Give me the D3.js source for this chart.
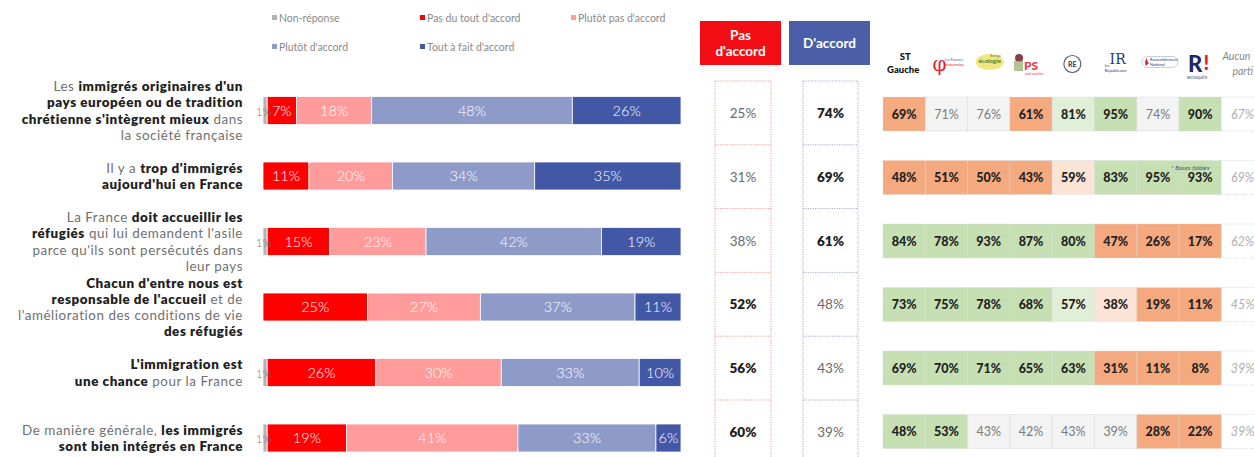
<!DOCTYPE html>
<html lang="fr">
<head>
<meta charset="UTF-8">
<title>Immigration - accord par affirmation</title>
<script src="https://d3js.org/d3.v7.min.js"></script>
<style>
    body { margin: 0; background: #fff; font-family: Lato, 'Open Sans', sans-serif; }
    svg { display: block; }
</style>
</head>
<body>
<svg width="1255" height="457"></svg>
<script>
// ---- data ----
const categories = ["Non-réponse", "Pas du tout d'accord", "Plutôt pas d'accord", "Plutôt d'accord", "Tout à fait d'accord"];
const nonReponse = [1, 0, 1, 0, 1, 1];
const pasDuTout = [7, 11, 15, 25, 26, 19];
const plutotPas = [18, 20, 23, 27, 30, 41];
const plutot = [48, 34, 42, 37, 33, 33];
const toutAFait = [26, 35, 19, 11, 10, 6];
const pasDAccord = [25, 31, 38, 52, 56, 60];
const dAccord = [74, 69, 61, 48, 43, 39];

// question labels, each line = list of [text, bold]
const questions = [
    [[["Les", 0], ["immigrés originaires d'un", 1]], [["pays européen ou de tradition", 1]], [["chrétienne s'intègrent mieux", 1], ["dans", 0]], [["la société française", 0]]],
    [[["Il y a", 0], ["trop d'immigrés", 1]], [["aujourd'hui en France", 1]]],
    [[["La France", 0], ["doit accueillir les", 1]], [["réfugiés", 1], ["qui lui demandent l'asile", 0]], [["parce qu'ils sont persécutés dans", 0]], [["leur pays", 0]]],
    [[["Chacun d'entre nous est", 1]], [["responsable de l'accueil", 1], ["et de", 0]], [["l'amélioration des conditions de vie", 0]], [["des réfugiés", 1]]],
    [[["L'immigration est", 1]], [["une chance", 1], ["pour la France", 0]]],
    [[["De manière générale,", 0], ["les immigrés", 1]], [["sont bien intégrés en France", 1]]]
];

const parties = ["ST Gauche", "LFI", "Écologie", "PS", "RE", "LR", "RN", "Reconquête", "Aucun parti"];
const partyValues = [
    [69, 71, 76, 61, 81, 95, 74, 90, 67],
    [48, 51, 50, 43, 59, 83, 95, 93, 69],
    [84, 78, 93, 87, 80, 47, 26, 17, 62],
    [73, 75, 78, 68, 57, 38, 19, 11, 45],
    [69, 70, 71, 65, 63, 31, 11, 8, 39],
    [48, 53, 43, 42, 43, 39, 28, 22, 39]
];
// significance vs ensemble: "--" well below, "-" below, "=" same, "+" above, "++" well above, "ref" = aucun parti
const partyTiers = [
    ["--", "=", "=", "--", "+", "++", "=", "++", "ref"],
    ["--", "--", "--", "--", "-", "++", "++", "++", "ref"],
    ["++", "++", "++", "++", "++", "--", "--", "--", "ref"],
    ["++", "++", "++", "++", "+", "-", "--", "--", "ref"],
    ["++", "++", "++", "++", "++", "--", "--", "--", "ref"],
    ["++", "++", "=", "=", "=", "=", "--", "--", "ref"]
];

// ---- setup ----
const svg = d3.select("svg");
const rows = d3.range(questions.length);
const series = [nonReponse, pasDuTout, plutotPas, plutot, toutAFait];

const color = d3.scaleOrdinal()
    .domain(categories)
    .range(["#b3b3b3", "#ff0000", "#ff9b9b", "#8e9bc9", "#4357a7"]);

const x = d3.scaleLinear().domain([0, 100]).range([263, 681]);
const y = d3.scalePoint().domain(rows).range([110.5, 438]);
const barH = 28;

// ---- legend ----
const legend = svg.append("g");
const legendPos = [[272, 18], [420, 18], [571, 18], [272, 47], [420, 47]];
categories.forEach((c, i) => {
    const g = legend.append("g").attr("transform", `translate(${legendPos[i][0]},${legendPos[i][1]})`);
    g.append("rect").attr("x", 0).attr("y", -3).attr("width", 5).attr("height", 5).attr("fill", color(c));
    g.append("text").attr("x", 7).attr("y", 3.5).attr("font-size", 10.5).attr("fill", "#8a8a8a").text(c);
});

// ---- question labels: parts placed right to left ----
const lineH = 16.3;
const spaceW = 4;
questions.forEach((lines, r) => {
    const y0 = y(r) - (lines.length - 1) * lineH / 2 + 5;
    lines.forEach((parts, li) => {
        let right = 243;
        parts.slice().reverse().forEach(p => {
            const t = svg.append("text")
                .attr("x", right).attr("y", y0 + li * lineH)
                .attr("text-anchor", "end")
                .attr("font-size", 13.4)
                .attr("letter-spacing", 0.55)
                .attr("font-weight", p[1] ? 800 : 400)
                .attr("fill", p[1] ? "#222" : "#707070")
                .text(p[0]);
            right -= t.node().getComputedTextLength() + spaceW;
        });
    });
});

// ---- stacked bars ----
rows.forEach(r => {
    let acc = 0;
    series.forEach((s, k) => {
        const v = s[r];
        const x0 = acc;
        acc += v;
        if (v === 0) return;
        svg.append("rect")
            .attr("x", x(x0)).attr("y", y(r) - barH / 2)
            .attr("width", x(acc) - x(x0)).attr("height", barH)
            .attr("fill", color(categories[k]))
            .attr("stroke", "#fff").attr("stroke-width", 0.8);
    });
    acc = 0;
    series.forEach((s, k) => {
        const v = s[r];
        const x0 = acc;
        acc += v;
        if (v === 0) return;
        svg.append("text")
            .attr("x", (x(x0) + x(acc)) / 2 + (k === 0 ? -1.5 : 0))
            .attr("y", y(r) + 5)
            .attr("text-anchor", "middle")
            .attr("font-size", k === 0 ? 11.5 : 14.5)
            .attr("font-weight", 300)
            .attr("fill", k === 0 ? "#7a7a7a" : "#fff")
            .text(v + "%");
    });
});

// ---- accord / pas d'accord columns ----
const ym = d3.scalePoint().domain(rows).range([113, 432]);
const cellH = 64;
const sumCols = [
    { key: "Pas\nd'accord", values: pasDAccord, x0: 715, x1: 771, head: [700, 781], fill: "#f20d15", line: "#e58a8a" },
    { key: "D'accord", values: dAccord, x0: 803, x1: 858, head: [789, 870], fill: "#4b5fa9", line: "#8f97c4" }
];
sumCols.forEach(col => {
    svg.append("rect").attr("x", col.head[0]).attr("y", 21)
        .attr("width", col.head[1] - col.head[0]).attr("height", 44).attr("fill", col.fill);
    const lines = col.key.split("\n");
    lines.forEach((l, i) => {
        svg.append("text")
            .attr("x", (col.head[0] + col.head[1]) / 2)
            .attr("y", 43 + 5 + (i - (lines.length - 1) / 2) * 16)
            .attr("text-anchor", "middle").attr("font-size", 13.5).attr("font-weight", 700)
            .attr("fill", "#fff").text(l);
    });
    const g = svg.append("g");
    g.append("line").attr("x1", col.x0).attr("x2", col.x0).attr("y1", ym(0) - cellH / 2).attr("y2", 460);
    g.append("line").attr("x1", col.x1).attr("x2", col.x1).attr("y1", ym(0) - cellH / 2).attr("y2", 460);
    rows.forEach(r => {
        g.append("line").attr("x1", col.x0).attr("x2", col.x1)
            .attr("y1", ym(r) - cellH / 2).attr("y2", ym(r) - cellH / 2);
    });
    g.selectAll("line").attr("stroke", col.line).attr("stroke-width", 0.8).attr("stroke-dasharray", "1.2,1.2");
    col.values.forEach((v, r) => {
        svg.append("text")
            .attr("x", (col.x0 + col.x1) / 2).attr("y", ym(r) + 5)
            .attr("text-anchor", "middle").attr("font-size", 13.5)
            .attr("font-weight", v > 50 ? 800 : 400)
            .attr("fill", v > 50 ? "#1e1e1e" : "#6a6a6a")
            .text(v + "%");
    });
});

// ---- party table ----
const xp = d3.scaleBand().domain(parties).range([883, 883 + 42.3 * parties.length]);
const yp = d3.scalePoint().domain(rows).range([114, 431.5]);
const tierFill = d3.scaleOrdinal()
    .domain(["--", "-", "=", "+", "++", "ref"])
    .range(["#f5a97f", "#fbe3d5", "#f3f3f3", "#e1efd8", "#c6e0b4", "#ffffff"]);
const cellPH = 34;

rows.forEach(r => {
    parties.forEach((p, c) => {
        const tier = partyTiers[r][c];
        svg.append("rect")
            .attr("x", xp(p)).attr("y", yp(r) - cellPH / 2)
            .attr("width", xp.bandwidth()).attr("height", cellPH)
            .attr("fill", tierFill(tier))
            .attr("stroke", tier === "ref" || tier === "=" ? "#cfcfcf" : "#d9d9d9")
            .attr("stroke-width", 0.7)
            .attr("stroke-dasharray", "1,1");
        const strong = tier !== "=" && tier !== "ref";
        svg.append("text")
            .attr("x", xp(p) + xp.bandwidth() / 2).attr("y", yp(r) + 4.5)
            .attr("text-anchor", "middle").attr("font-size", 12.5)
            .attr("font-weight", strong ? 900 : 400)
            .attr("font-style", tier === "ref" ? "italic" : "normal")
            .attr("fill", strong ? "#222" : (tier === "ref" ? "#b0b0b0" : "#7a7a7a"))
            .text(partyValues[r][c] + "%");
    });
});
svg.append("text").attr("x", xp("Reconquête") - 8).attr("y", yp(1) - 8)
    .attr("font-size", 6.5).attr("font-style", "italic").attr("fill", "#556")
    .text("* Bases faibles");

// ---- party header (simplified logos) ----
const hx = p => xp(p) + xp.bandwidth() / 2;
const hdr = svg.append("g");
hdr.append("text").attr("x", hx("ST Gauche") + 1).attr("y", 60).attr("text-anchor", "middle")
    .attr("font-size", 9.5).attr("font-weight", 900).attr("fill", "#111").text("ST");
hdr.append("text").attr("x", hx("ST Gauche") - 1).attr("y", 73).attr("text-anchor", "middle")
    .attr("font-size", 9.5).attr("font-weight", 900).attr("fill", "#111").text("Gauche");
// LFI
hdr.append("text").attr("x", hx("LFI") - 14).attr("y", 71).attr("font-size", 20)
    .attr("fill", "#e0252b").attr("font-family", "DejaVu Serif").text("φ");
hdr.append("text").attr("x", hx("LFI") - 2).attr("y", 61).attr("font-size", 4.5).attr("fill", "#2f6fb5").text("La France");
hdr.append("text").attr("x", hx("LFI") - 2).attr("y", 66).attr("font-size", 4.5).attr("fill", "#e0252b").text("insoumise");
// Ecologie
hdr.append("ellipse").attr("cx", hx("Écologie") + 1).attr("cy", 62).attr("rx", 14).attr("ry", 8)
    .attr("fill", "#ece46a").attr("opacity", 0.85);
hdr.append("text").attr("x", hx("Écologie") + 1).attr("y", 63).attr("text-anchor", "middle")
    .attr("font-size", 6).attr("font-weight", 700).attr("fill", "#3e7c3a").text("écologie");
hdr.append("text").attr("x", hx("Écologie") + 7).attr("y", 57).attr("text-anchor", "middle")
    .attr("font-size", 3.5).attr("fill", "#3e7c3a").text("Europe");
// PS
hdr.append("circle").attr("cx", hx("PS") - 12).attr("cy", 58).attr("r", 4).attr("fill", "#8c3b46");
hdr.append("rect").attr("x", hx("PS") - 17).attr("y", 61).attr("width", 9).attr("height", 10).attr("fill", "#9fb47a").attr("opacity", 0.8);
hdr.append("text").attr("x", hx("PS") - 7).attr("y", 70).attr("font-size", 12).attr("font-weight", 900)
    .attr("fill", "#e63a4d").text("PS");
hdr.append("text").attr("x", hx("PS") - 6).attr("y", 74.5).attr("font-size", 3).attr("fill", "#e63a4d").text("parti socialiste");
// RE
hdr.append("circle").attr("cx", hx("RE") - 1).attr("cy", 64).attr("r", 8.5)
    .attr("fill", "#fff").attr("stroke", "#5a6070").attr("stroke-width", 1.2);
hdr.append("text").attr("x", hx("RE") - 1).attr("y", 66.5).attr("text-anchor", "middle")
    .attr("font-size", 7).attr("font-weight", 700).attr("fill", "#2c3350").text("RE");
// LR
hdr.append("text").attr("x", hx("LR") + 2).attr("y", 64).attr("text-anchor", "middle")
    .attr("font-size", 14).attr("fill", "#233a80").attr("font-family", "DejaVu Serif").text("IR");
hdr.append("text").attr("x", hx("LR") - 11).attr("y", 67).attr("font-size", 4).attr("fill", "#233a80").text("les");
hdr.append("text").attr("x", hx("LR") - 11).attr("y", 71.5).attr("font-size", 4).attr("fill", "#233a80").text("Républicains");
// RN
hdr.append("rect").attr("x", hx("RN") - 16).attr("y", 56.5).attr("width", 36).attr("height", 11).attr("rx", 5.5)
    .attr("fill", "none").attr("stroke", "#b8bfd8").attr("stroke-width", 0.8);
hdr.append("path").attr("d", `M${hx("RN") - 12},66 q-2,-5 1,-8 q0,4 2,5 z`).attr("fill", "#d3283a");
hdr.append("text").attr("x", hx("RN") - 8).attr("y", 61).attr("font-size", 4).attr("fill", "#233a80").text("Rassemblement");
hdr.append("text").attr("x", hx("RN") - 8).attr("y", 65.5).attr("font-size", 4).attr("fill", "#233a80").text("National");
// Reconquête
hdr.append("text").attr("x", hx("Reconquête") - 5).attr("y", 72).attr("text-anchor", "middle")
    .attr("font-size", 22).attr("font-weight", 900).attr("fill", "#1b2a6b").text("R");
hdr.append("text").attr("x", hx("Reconquête") + 6).attr("y", 70).attr("text-anchor", "middle")
    .attr("font-size", 20).attr("font-weight", 900).attr("fill", "#e3202b").text("!");
hdr.append("text").attr("x", hx("Reconquête") - 3).attr("y", 79).attr("text-anchor", "middle")
    .attr("font-size", 3).attr("fill", "#1b2a6b").text("RECONQUÊTE");
// Aucun parti
hdr.append("text").attr("x", xp("Aucun parti") + 1).attr("y", 60).attr("font-size", 10.5)
    .attr("font-style", "italic").attr("fill", "#8a8a8a").text("Aucun");
hdr.append("text").attr("x", xp("Aucun parti") + 11).attr("y", 75).attr("font-size", 10.5)
    .attr("font-style", "italic").attr("fill", "#8a8a8a").text("parti");
</script>
</body>
</html>
